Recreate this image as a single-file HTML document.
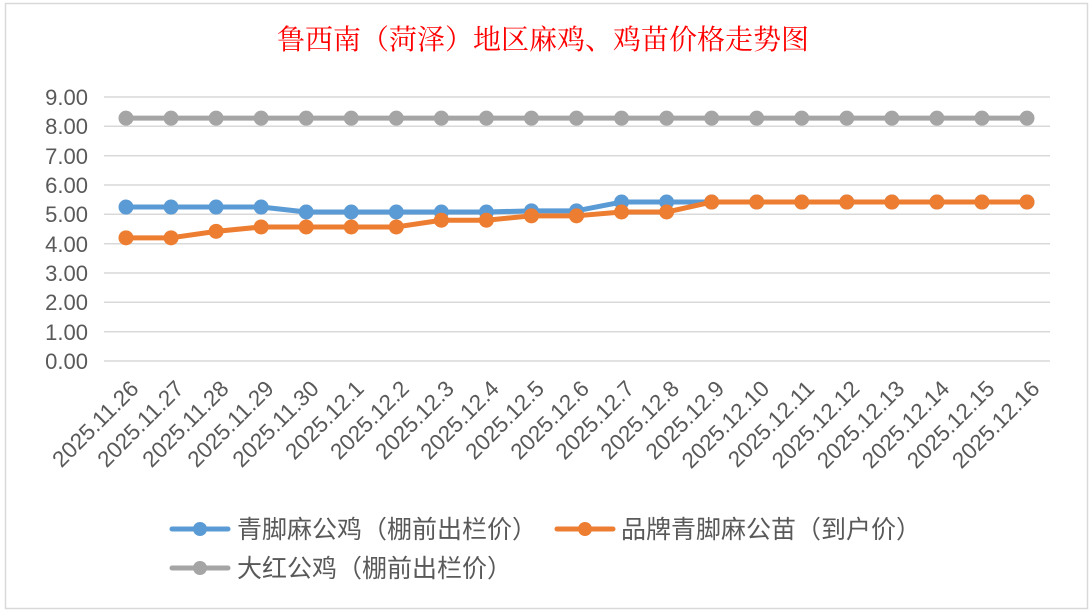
<!DOCTYPE html>
<html><head><meta charset="utf-8"><style>
html,body{margin:0;padding:0;background:#fff;}
svg{display:block;}
</style></head><body>
<svg width="1090" height="614" viewBox="0 0 1090 614" xmlns="http://www.w3.org/2000/svg">
<rect x="0" y="0" width="1090" height="614" fill="#fff"/>
<rect x="5.5" y="3.5" width="1082" height="605" fill="#fff" stroke="#d9d9d9" stroke-width="1.5"/>
<text x="543" y="49" text-anchor="middle" font-family="'Liberation Serif','Noto Serif CJK SC',serif" font-size="28" fill="#ff0000">鲁西南（菏泽）地区麻鸡、鸡苗价格走势图</text>
<g stroke="#d9d9d9" stroke-width="1.5">
<line x1="104" x2="1050" y1="97" y2="97"/><line x1="104" x2="1050" y1="126.3" y2="126.3"/><line x1="104" x2="1050" y1="155.7" y2="155.7"/><line x1="104" x2="1050" y1="185" y2="185"/><line x1="104" x2="1050" y1="214.3" y2="214.3"/><line x1="104" x2="1050" y1="243.7" y2="243.7"/><line x1="104" x2="1050" y1="273" y2="273"/><line x1="104" x2="1050" y1="302.3" y2="302.3"/><line x1="104" x2="1050" y1="331.7" y2="331.7"/><line x1="104" x2="1050" y1="361" y2="361"/>
</g>
<g font-family="'Liberation Sans',sans-serif" font-size="22" fill="#595959" text-anchor="end">
<text x="88" y="105">9.00</text><text x="88" y="134">8.00</text><text x="88" y="164">7.00</text><text x="88" y="193">6.00</text><text x="88" y="222">5.00</text><text x="88" y="252">4.00</text><text x="88" y="281">3.00</text><text x="88" y="310">2.00</text><text x="88" y="340">1.00</text><text x="88" y="369">0.00</text>
</g>
<g id="lbl" font-family="'Liberation Sans',sans-serif" font-size="22.5" fill="#595959" text-anchor="end"></g>
<g id="series"></g>
<g font-family="'Liberation Sans','Noto Sans CJK SC',sans-serif" font-size="25" fill="#595959">
<line x1="172" x2="228" y1="529" y2="529" stroke="#5b9bd5" stroke-width="5" stroke-linecap="round"/><circle cx="200" cy="529" r="7" fill="#5b9bd5"/>
<text x="237" y="538">青脚麻公鸡（棚前出栏价）</text>
<line x1="557" x2="613" y1="529" y2="529" stroke="#ed7d31" stroke-width="5" stroke-linecap="round"/><circle cx="585" cy="529" r="7" fill="#ed7d31"/>
<text x="621" y="538">品牌青脚麻公苗（到户价）</text>
<line x1="172" x2="228" y1="568" y2="568" stroke="#a5a5a5" stroke-width="5" stroke-linecap="round"/><circle cx="200" cy="568" r="7" fill="#a5a5a5"/>
<text x="237" y="577">大红公鸡（棚前出栏价）</text>
</g>
<script>
var ns="http://www.w3.org/2000/svg";
var labels=["2025.11.26","2025.11.27","2025.11.28","2025.11.29","2025.11.30","2025.12.1","2025.12.2","2025.12.3","2025.12.4","2025.12.5","2025.12.6","2025.12.7","2025.12.8","2025.12.9","2025.12.10","2025.12.11","2025.12.12","2025.12.13","2025.12.14","2025.12.15","2025.12.16"];
function X(i){return 126+45.05*i;}
function Y(v){return 361-v*29.33;}
var lg=document.getElementById("lbl");
labels.forEach(function(l,i){var t=document.createElementNS(ns,"text");var x=X(i)+14,y=390;t.setAttribute("x",x);t.setAttribute("y",y);t.setAttribute("transform","rotate(-45 "+x+" "+y+")");t.textContent=l;lg.appendChild(t);});
var gray=[],blue=[5.25,5.25,5.25,5.25,5.08,5.08,5.08,5.08,5.08,5.12,5.12,5.42,5.42,5.42,5.42,5.42,5.42,5.42,5.42,5.42,5.42],orange=[4.2,4.2,4.42,4.57,4.57,4.57,4.57,4.8,4.8,4.95,4.95,5.08,5.08,5.42,5.42,5.42,5.42,5.42,5.42,5.42,5.42];
for(var i=0;i<21;i++)gray.push(8.28);
var sg=document.getElementById("series");
[[gray,"#a5a5a5"],[blue,"#5b9bd5"],[orange,"#ed7d31"]].forEach(function(s){
var pts=s[0].map(function(v,i){return X(i)+","+Y(v);}).join(" ");
var p=document.createElementNS(ns,"polyline");p.setAttribute("points",pts);p.setAttribute("fill","none");p.setAttribute("stroke",s[1]);p.setAttribute("stroke-width","5");p.setAttribute("stroke-linejoin","round");sg.appendChild(p);
s[0].forEach(function(v,i){var c=document.createElementNS(ns,"circle");c.setAttribute("cx",X(i));c.setAttribute("cy",Y(v));c.setAttribute("r","7.5");c.setAttribute("fill",s[1]);sg.appendChild(c);});
});
</script>
</svg>
</body></html>
